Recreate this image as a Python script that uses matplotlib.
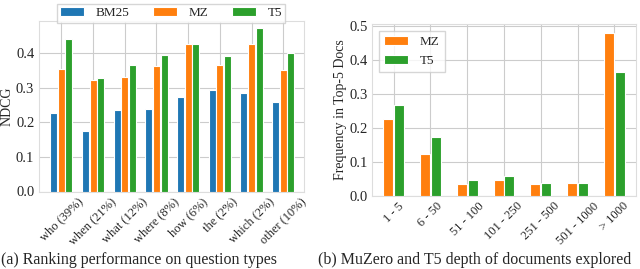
import matplotlib
matplotlib.use("Agg")
import matplotlib.pyplot as plt
import numpy as np
import seaborn as sns

sns.set_style("whitegrid")
plt.rcParams['font.family'] = ['Liberation Serif', 'DejaVu Serif']
plt.rcParams['font.size'] = 10

# left panel: NDCG per question type
qtypes = ["who (39%)", "when (21%)", "what (12%)", "where (8%)",
          "how (6%)", "the (2%)", "which (2%)", "other (10%)"]
bm25 = [0.228, 0.176, 0.236, 0.239, 0.275, 0.294, 0.286, 0.259]
mz = [0.356, 0.323, 0.332, 0.364, 0.428, 0.367, 0.427, 0.351]
t5 = [0.442, 0.328, 0.367, 0.396, 0.427, 0.393, 0.473, 0.401]

# right panel: depth of documents explored
depths = ["1 - 5", "6 - 50", "51 - 100", "101 - 250", "251 - 500",
          "501 - 1000", "> 1000"]
mz_depth = [0.227, 0.124, 0.035, 0.046, 0.035, 0.038, 0.480]
t5_depth = [0.269, 0.173, 0.046, 0.059, 0.039, 0.038, 0.365]

blue, orange, green = '#1f77b4', '#ff7f0e', '#2ca02c'

fig = plt.figure(figsize=(6.4, 2.69), dpi=100)
ax1 = fig.add_axes([38.5/640, 1-191.5/269, 265/640, 170.5/269])
ax2 = fig.add_axes([372/640, 1-196/269, 264/640, 172/269])

x = np.arange(len(qtypes))
w = 0.22
ax1.bar(x - 0.24, bm25, w, color=blue, edgecolor='white', linewidth=0.8, label='BM25', zorder=3)
ax1.bar(x, mz, w, color=orange, edgecolor='white', linewidth=0.8, label='MZ', zorder=3)
ax1.bar(x + 0.24, t5, w, color=green, edgecolor='white', linewidth=0.8, label='T5', zorder=3)
ax1.set_xticks(x)
ax1.set_xticklabels(qtypes, rotation=45, ha='center', fontsize=9)
ax1.set_xlim(-0.72, 7.64)
ax1.set_ylim(0, 0.494)
ax1.set_yticks([0.0, 0.1, 0.2, 0.3, 0.4])
ax1.set_ylabel('NDCG', labelpad=1.5)
ax1.legend(loc='upper center', bbox_to_anchor=(0.5, 1.14), ncol=3,
           handlelength=1.8, handletextpad=0.9, columnspacing=1.8,
           frameon=True, fancybox=False, borderpad=0.25, fontsize=9.5)

x2 = np.arange(len(depths))
w2 = 0.27
ax2.bar(x2 - 0.145, mz_depth, w2, color=orange, edgecolor='white', linewidth=0.8, label='MZ', zorder=3)
ax2.bar(x2 + 0.145, t5_depth, w2, color=green, edgecolor='white', linewidth=0.8, label='T5', zorder=3)
ax2.set_xticks(x2)
ax2.set_xticklabels(depths, rotation=45, ha='center', fontsize=9)
ax2.set_xlim(-0.59, 6.59)
ax2.set_ylim(0, 0.506)
ax2.set_yticks([0.0, 0.1, 0.2, 0.3, 0.4, 0.5])
ax2.set_ylabel('Frequency in Top-5 Docs', labelpad=2)
ax2.legend(loc='upper left', handlelength=1.8, handletextpad=0.9,
           frameon=True, fancybox=False, fontsize=9.5)

for ax in (ax1, ax2):
    ax.tick_params(axis='both', length=0, pad=3)
    ax.tick_params(axis='y', labelsize=10.5)
    for s in ax.spines.values():
        s.set_color('#dddddd')

fig.text(1/640, 1/269, "(a) Ranking performance on question types",
         ha='left', va='bottom', fontsize=11.5)
fig.text(318/640, 1/269, "(b) MuZero and T5 depth of documents explored",
         ha='left', va='bottom', fontsize=11.5)

fig.savefig('out.png', dpi=100)
